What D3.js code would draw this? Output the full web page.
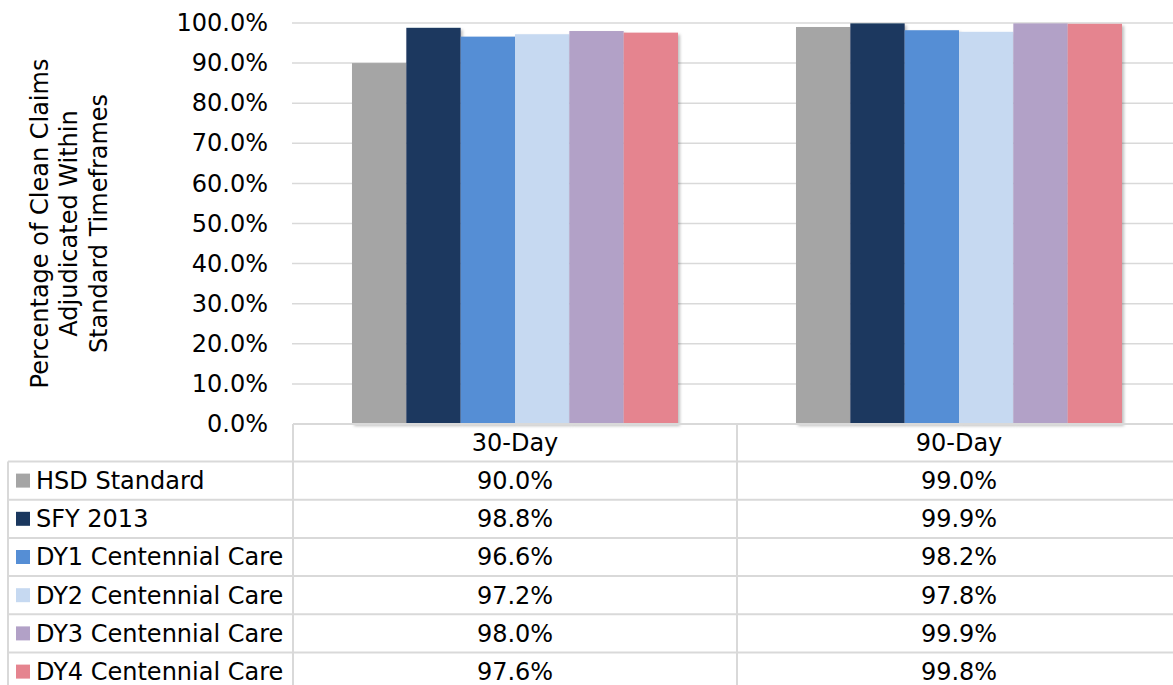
<!DOCTYPE html>
<html>
<head>
<meta charset="utf-8">
<script src="https://cdn.jsdelivr.net/npm/d3@7"></script>
<style>
  body { margin: 0; background: #fff; }
  svg { display: block; font-family: "DejaVu Sans", Verdana, sans-serif; }
</style>
</head>
<body>
<div id="chart"></div>
<script>
// Chart data
var categories = ["30-Day", "90-Day"];
var seriesNames = ["HSD Standard", "SFY 2013", "DY1 Centennial Care", "DY2 Centennial Care", "DY3 Centennial Care", "DY4 Centennial Care"];
var values30 = [90.0, 98.8, 96.6, 97.2, 98.0, 97.6];
var values90 = [99.0, 99.9, 98.2, 97.8, 99.9, 99.8];
var yTicks = [0, 10, 20, 30, 40, 50, 60, 70, 80, 90, 100];
var seriesColors = ["#a5a5a5", "#1a375e", "#558ed5", "#c6d9f1", "#b2a1c7", "#e5848f"];
var yTitleLines = ["Percentage of Clean Claims", "Adjudicated Within", "Standard Timeframes"];

var valuesByCat = { "30-Day": values30, "90-Day": values90 };

var W = 1173, H = 685,
    plotLeft = 293, plotTop = 23, plotBottom = 424,
    bandW = 444,
    rowH = 38.2,
    tableTop = plotBottom, headerH = 37.5,
    legendLeft = 8,
    gridColor = "#d9d9d9";

var svg = d3.select("#chart").append("svg")
    .attr("width", W)
    .attr("height", H);

var defs = svg.append("defs");
var shadow = defs.append("filter").attr("id", "shadow")
    .attr("x", "-10%").attr("y", "-10%").attr("width", "130%").attr("height", "130%");
shadow.append("feDropShadow")
    .attr("dx", 2).attr("dy", 2).attr("stdDeviation", 1.5)
    .attr("flood-color", "#000").attr("flood-opacity", 0.25);

var xScale = d3.scaleBand()
    .domain(categories)
    .range([plotLeft, plotLeft + bandW * categories.length]);

var xInner = d3.scaleBand()
    .domain(seriesNames)
    .range([59, bandW - 59]);

var yScale = d3.scaleLinear()
    .domain([0, 100])
    .range([plotBottom, plotTop]);

var color = d3.scaleOrdinal().domain(seriesNames).range(seriesColors);

// Gridlines
svg.append("g")
  .selectAll("line")
  .data(yTicks.filter(function(d) { return d > 0; }))
  .enter().append("line")
    .attr("x1", plotLeft - 1)
    .attr("x2", W)
    .attr("y1", function(d) { return yScale(d); })
    .attr("y2", function(d) { return yScale(d); })
    .attr("stroke", gridColor)
    .attr("stroke-width", 1.5);

// Y axis labels
var yAxis = d3.axisLeft(yScale)
    .tickValues(yTicks)
    .tickSize(0)
    .tickPadding(25)
    .tickFormat(function(d) { return d.toFixed(1) + "%"; });

svg.append("g")
    .attr("transform", "translate(" + plotLeft + ",0)")
    .call(yAxis)
    .call(function(g) { g.select(".domain").remove(); })
    .selectAll("text")
    .attr("font-size", 24)
    .attr("font-family", "DejaVu Sans, Verdana, sans-serif")
    .attr("fill", "#000");

// Y axis title
var titleX = 69, titleY = (plotTop + plotBottom) / 2;
svg.append("text")
    .attr("transform", "translate(" + titleX + "," + titleY + ") rotate(-90)")
    .attr("text-anchor", "middle")
    .attr("font-size", 24)
    .attr("fill", "#000")
  .selectAll("tspan")
  .data(yTitleLines)
  .enter().append("tspan")
    .attr("x", 0)
    .attr("y", function(d, i) { return (i - 1) * 29.5 + 8; })
    .text(function(d) { return d; });

// Bars
var groups = svg.append("g")
  .selectAll("g")
  .data(categories)
  .enter().append("g")
    .attr("transform", function(d) { return "translate(" + xScale(d) + ",0)"; });

groups.selectAll("rect")
  .data(function(c) {
      return seriesNames.map(function(s, i) { return { key: s, value: valuesByCat[c][i] }; });
  })
  .enter().append("rect")
    .attr("x", function(d) { return xInner(d.key); })
    .attr("width", xInner.bandwidth())
    .attr("y", function(d) { return yScale(d.value); })
    .attr("height", function(d) { return plotBottom - yScale(d.value); })
    .attr("fill", function(d) { return color(d.key); })
    .attr("filter", "url(#shadow)");

// Data table
var rowScale = d3.scaleBand()
    .domain(seriesNames)
    .range([tableTop + headerH, tableTop + headerH + rowH * seriesNames.length]);

var table = svg.append("g");
var tableRight = plotLeft + bandW * categories.length;

// horizontal lines
var hLines = [tableTop].concat(seriesNames.map(function(s) { return rowScale(s); }));
table.selectAll("line.h")
  .data(hLines)
  .enter().append("line")
    .attr("class", "h")
    .attr("x1", function(d, i) { return i === 0 ? plotLeft : legendLeft; })
    .attr("x2", tableRight)
    .attr("y1", function(d) { return d; })
    .attr("y2", function(d) { return d; })
    .attr("stroke", gridColor)
    .attr("stroke-width", 2);

// vertical lines
table.append("line")
    .attr("x1", legendLeft).attr("x2", legendLeft)
    .attr("y1", rowScale(seriesNames[0])).attr("y2", H)
    .attr("stroke", gridColor).attr("stroke-width", 2);

table.selectAll("line.v")
  .data(categories.concat(["end"]))
  .enter().append("line")
    .attr("class", "v")
    .attr("x1", function(d) { return d === "end" ? tableRight : xScale(d); })
    .attr("x2", function(d) { return d === "end" ? tableRight : xScale(d); })
    .attr("y1", tableTop)
    .attr("y2", H)
    .attr("stroke", gridColor)
    .attr("stroke-width", 2);

// header row
table.selectAll("text.cat")
  .data(categories)
  .enter().append("text")
    .attr("class", "cat")
    .attr("x", function(d) { return xScale(d) + xScale.bandwidth() / 2; })
    .attr("y", tableTop + headerH / 2)
    .attr("dy", "0.35em")
    .attr("text-anchor", "middle")
    .attr("font-size", 24)
    .attr("fill", "#000")
    .text(function(d) { return d; });

// legend column
var legendRows = table.selectAll("g.row")
  .data(seriesNames)
  .enter().append("g")
    .attr("class", "row")
    .attr("transform", function(d) { return "translate(0," + (rowScale(d) + rowScale.bandwidth() / 2) + ")"; });

legendRows.append("rect")
    .attr("x", 16)
    .attr("y", -7)
    .attr("width", 14)
    .attr("height", 14)
    .attr("fill", function(d) { return color(d); });

legendRows.append("text")
    .attr("x", 36)
    .attr("dy", "0.35em")
    .attr("font-size", 24)
    .attr("fill", "#000")
    .text(function(d) { return d; });

// value cells
legendRows.selectAll("text.val")
  .data(function(s) {
      var i = seriesNames.indexOf(s);
      return categories.map(function(c) { return { cat: c, value: valuesByCat[c][i] }; });
  })
  .enter().append("text")
    .attr("class", "val")
    .attr("x", function(d) { return xScale(d.cat) + xScale.bandwidth() / 2; })
    .attr("dy", "0.35em")
    .attr("text-anchor", "middle")
    .attr("font-size", 24)
    .attr("fill", "#000")
    .text(function(d) { return d.value.toFixed(1) + "%"; });
</script>
</body>
</html>
